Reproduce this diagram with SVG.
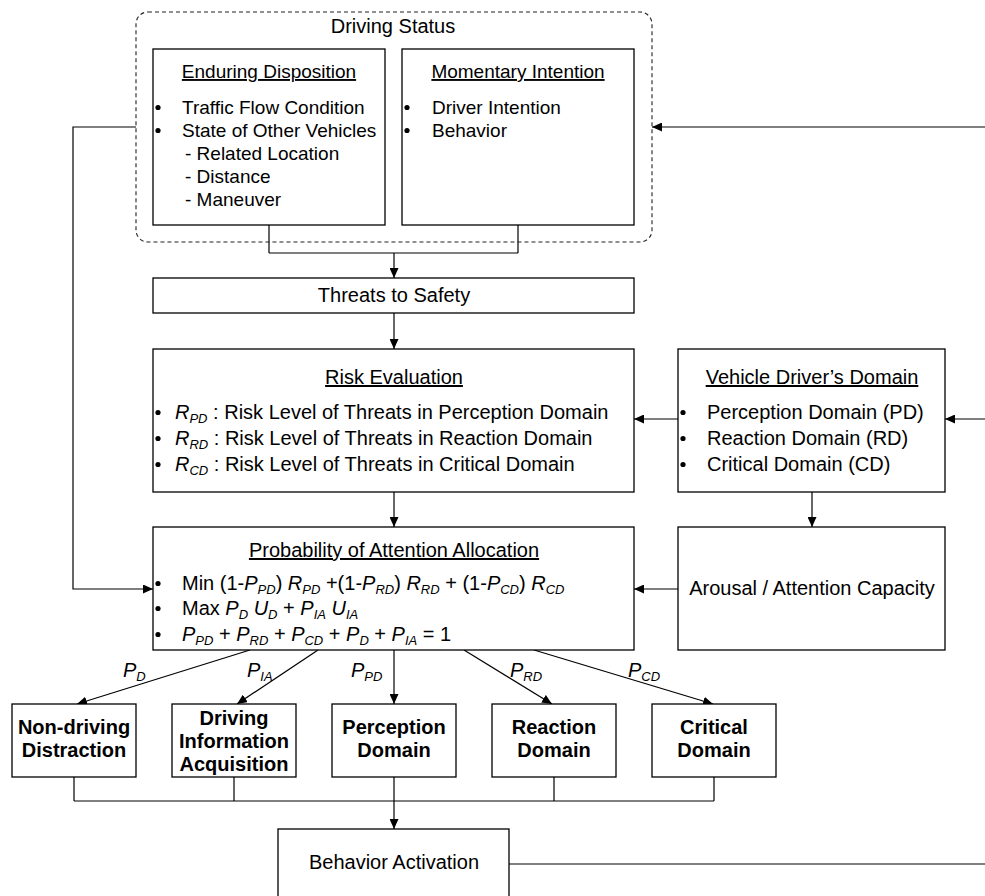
<svg xmlns="http://www.w3.org/2000/svg" width="985" height="896" viewBox="0 0 985 896">
  <defs>
    <style>
      text { font-family: "Liberation Sans", Arial, sans-serif; fill: #000; font-size: 20px; }
      .box { fill: #fff; stroke: #000; stroke-width: 1.3; }
      .dash { fill: none; stroke: #222; stroke-width: 1.1; stroke-dasharray: 4 3; }
      .ln { fill: none; stroke: #000; stroke-width: 1.2; }
      .arr { marker-end: url(#ah); }
      .dot { fill: #000; }
      .f19 { font-size: 19px; }
      .b { font-weight: bold; }
      .u { text-decoration: underline; }
      .i { font-style: italic; }
      .s { font-size: 13px; font-style: italic; }
      .m { text-anchor: middle; }
    </style>
    <marker id="ah" markerUnits="userSpaceOnUse" markerWidth="10" markerHeight="9" refX="10" refY="4.5" orient="auto">
      <path d="M0,0 L10,4.5 L0,9 z" fill="#000"/>
    </marker>
  </defs>

  <!-- connectors -->
  <g id="connectors">
    <path class="ln arr" d="M136,127 H73 V589 H153"/>
    <path class="ln arr" d="M985,127 H652"/>
    <path class="ln" d="M269,225 V253 M518,225 V253 M269,253 H518"/>
    <path class="ln arr" d="M394,253 V278"/>
    <path class="ln arr" d="M394,313 V349"/>
    <path class="ln arr" d="M678,419 H634"/>
    <path class="ln arr" d="M985,419 H945"/>
    <path class="ln arr" d="M812,492 V527"/>
    <path class="ln arr" d="M394,492 V527"/>
    <path class="ln arr" d="M678,589 H634"/>
    <path class="ln arr" d="M250,650 L77,704"/>
    <path class="ln arr" d="M318,650 L237,704"/>
    <path class="ln arr" d="M394,650 V704"/>
    <path class="ln arr" d="M464,650 L552,704"/>
    <path class="ln arr" d="M534,650 L713,704"/>
    <path class="ln" d="M74,777 V801 M234,777 V801 M554,777 V801 M714,777 V801 M74,801 H714 M394,777 V801"/>
    <path class="ln arr" d="M394,801 V829"/>
    <path class="ln" d="M509,864 H985"/>
  </g>

  <!-- edge labels -->
  <g id="edge-labels">
    <text class="i" x="123" y="677">P<tspan class="s" dy="4">D</tspan></text>
    <text class="i" x="247" y="677">P<tspan class="s" dy="4">IA</tspan></text>
    <text class="i" x="351" y="677">P<tspan class="s" dy="4">PD</tspan></text>
    <text class="i" x="510" y="677">P<tspan class="s" dy="4">RD</tspan></text>
    <text class="i" x="628" y="677">P<tspan class="s" dy="4">CD</tspan></text>
  </g>

  <!-- driving status container -->
  <g id="driving-status">
    <rect class="dash" x="136" y="12" width="516" height="230" rx="12"/>
    <text class="m" x="393" y="33">Driving Status</text>
  </g>

  <g id="enduring-disposition">
    <rect class="box" x="153" y="49" width="232" height="176"/>
    <text class="m u f19" x="269" y="78">Enduring Disposition</text>
    <circle class="dot" cx="158" cy="107.5" r="2.6"/>
    <circle class="dot" cx="158" cy="130.5" r="2.6"/>
    <text class="f19" x="182" y="114">Traffic Flow Condition</text>
    <text class="f19" x="182" y="137">State of Other Vehicles</text>
    <text class="f19" x="185" y="160">- Related Location</text>
    <text class="f19" x="185" y="183">- Distance</text>
    <text class="f19" x="185" y="206">- Maneuver</text>
  </g>

  <g id="momentary-intention">
    <rect class="box" x="402" y="49" width="232" height="176"/>
    <text class="m u f19" x="518" y="78">Momentary Intention</text>
    <circle class="dot" cx="407" cy="107.5" r="2.6"/>
    <circle class="dot" cx="407" cy="130.5" r="2.6"/>
    <text class="f19" x="432" y="114">Driver Intention</text>
    <text class="f19" x="432" y="137">Behavior</text>
  </g>

  <g id="threats">
    <rect class="box" x="153" y="278" width="481" height="35"/>
    <text class="m" x="394" y="302">Threats to Safety</text>
  </g>

  <g id="risk-evaluation">
    <rect class="box" x="153" y="349" width="481" height="143"/>
    <text class="m u" x="394" y="384">Risk Evaluation</text>
    <circle class="dot" cx="158" cy="412.5" r="2.6"/>
    <circle class="dot" cx="158" cy="438.5" r="2.6"/>
    <circle class="dot" cx="158" cy="464.5" r="2.6"/>
    <text x="175" y="419"><tspan class="i">R</tspan><tspan class="s" dy="4">PD</tspan><tspan dy="-4"> : Risk Level of Threats in Perception Domain</tspan></text>
    <text x="175" y="445"><tspan class="i">R</tspan><tspan class="s" dy="4">RD</tspan><tspan dy="-4"> : Risk Level of Threats in Reaction Domain</tspan></text>
    <text x="175" y="471"><tspan class="i">R</tspan><tspan class="s" dy="4">CD</tspan><tspan dy="-4"> : Risk Level of Threats in Critical Domain</tspan></text>
  </g>

  <g id="vehicle-drivers-domain">
    <rect class="box" x="678" y="349" width="267" height="143"/>
    <text class="m u" x="812" y="384">Vehicle Driver’s Domain</text>
    <circle class="dot" cx="683" cy="412.5" r="2.6"/>
    <circle class="dot" cx="683" cy="438.5" r="2.6"/>
    <circle class="dot" cx="683" cy="464.5" r="2.6"/>
    <text x="707" y="419">Perception Domain (PD)</text>
    <text x="707" y="445">Reaction Domain (RD)</text>
    <text x="707" y="471">Critical Domain (CD)</text>
  </g>

  <g id="attention-allocation">
    <rect class="box" x="153" y="527" width="481" height="123"/>
    <text class="m u" x="394" y="557">Probability of Attention Allocation</text>
    <circle class="dot" cx="158" cy="583.5" r="2.6"/>
    <circle class="dot" cx="158" cy="608.5" r="2.6"/>
    <circle class="dot" cx="158" cy="634.5" r="2.6"/>
    <text x="182" y="590">Min (1-<tspan class="i">P</tspan><tspan class="s" dy="4">PD</tspan><tspan dy="-4">) </tspan><tspan class="i">R</tspan><tspan class="s" dy="4">PD</tspan><tspan dy="-4"> +(1-</tspan><tspan class="i">P</tspan><tspan class="s" dy="4">RD</tspan><tspan dy="-4">) </tspan><tspan class="i">R</tspan><tspan class="s" dy="4">RD</tspan><tspan dy="-4"> + (1-</tspan><tspan class="i">P</tspan><tspan class="s" dy="4">CD</tspan><tspan dy="-4">) </tspan><tspan class="i">R</tspan><tspan class="s" dy="4">CD</tspan></text>
    <text x="182" y="615">Max <tspan class="i">P</tspan><tspan class="s" dy="4">D</tspan><tspan dy="-4"> </tspan><tspan class="i">U</tspan><tspan class="s" dy="4">D</tspan><tspan dy="-4"> + </tspan><tspan class="i">P</tspan><tspan class="s" dy="4">IA</tspan><tspan dy="-4"> </tspan><tspan class="i">U</tspan><tspan class="s" dy="4">IA</tspan></text>
    <text x="182" y="641"><tspan class="i">P</tspan><tspan class="s" dy="4">PD</tspan><tspan dy="-4"> + </tspan><tspan class="i">P</tspan><tspan class="s" dy="4">RD</tspan><tspan dy="-4"> + </tspan><tspan class="i">P</tspan><tspan class="s" dy="4">CD</tspan><tspan dy="-4"> + </tspan><tspan class="i">P</tspan><tspan class="s" dy="4">D</tspan><tspan dy="-4"> + </tspan><tspan class="i">P</tspan><tspan class="s" dy="4">IA</tspan><tspan dy="-4"> = 1</tspan></text>
  </g>

  <g id="arousal">
    <rect class="box" x="678" y="527" width="267" height="123"/>
    <text class="m" x="812" y="595">Arousal / Attention Capacity</text>
  </g>

  <g id="non-driving-distraction">
    <rect class="box" x="12" y="704" width="124" height="73"/>
    <text class="m b" x="74" y="734">Non-driving</text>
    <text class="m b" x="74" y="757">Distraction</text>
  </g>

  <g id="driving-information-acquisition">
    <rect class="box" x="172" y="704" width="124" height="73"/>
    <text class="m b" x="234" y="725">Driving</text>
    <text class="m b" x="234" y="748">Information</text>
    <text class="m b" x="234" y="771">Acquisition</text>
  </g>

  <g id="perception-domain">
    <rect class="box" x="332" y="704" width="124" height="73"/>
    <text class="m b" x="394" y="734">Perception</text>
    <text class="m b" x="394" y="757">Domain</text>
  </g>

  <g id="reaction-domain">
    <rect class="box" x="492" y="704" width="124" height="73"/>
    <text class="m b" x="554" y="734">Reaction</text>
    <text class="m b" x="554" y="757">Domain</text>
  </g>

  <g id="critical-domain">
    <rect class="box" x="652" y="704" width="124" height="73"/>
    <text class="m b" x="714" y="734">Critical</text>
    <text class="m b" x="714" y="757">Domain</text>
  </g>

  <g id="behavior-activation">
    <rect class="box" x="278" y="829" width="231" height="68"/>
    <text class="m" x="394" y="869">Behavior Activation</text>
  </g>
</svg>
